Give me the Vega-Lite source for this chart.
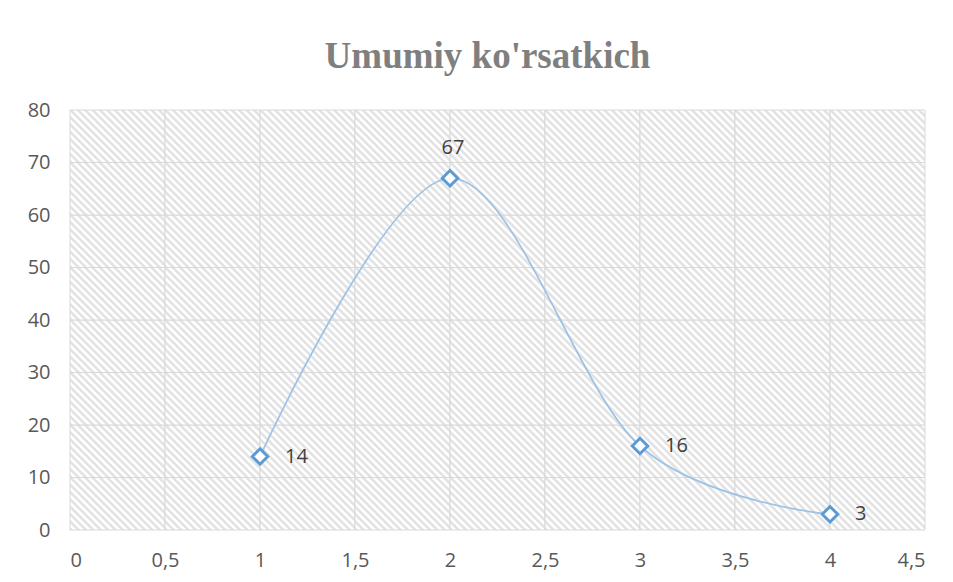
{
  "$schema": "https://vega.github.io/schema/vega-lite/v6.json",
  "width": 855,
  "height": 420,
  "autosize": "none",
  "padding": {"left": 70, "top": 110, "right": 28, "bottom": 52},
  "background": "#ffffff",
  "config": {"view": {"stroke": null}},
  "title": {
    "text": "Umumiy ko'rsatkich",
    "font": "Liberation Serif",
    "fontSize": 37,
    "fontWeight": "bold",
    "color": "#7f7f7f",
    "anchor": "middle",
    "frame": "group",
    "baseline": "alphabetic",
    "offset": 34,
    "dy": 39,
    "dx": -10
  },
  "datasets": {
    "cells": [
      {"y0": 0, "y1": 10, "xs": [0, 0.5, 1, 1.5, 2, 2.5, 3, 3.5, 4], "xe": [0.5, 1, 1.5, 2, 2.5, 3, 3.5, 4, 4.5]},
      {"y0": 10, "y1": 20, "xs": [0, 0.5, 1, 1.5, 2, 2.5, 3, 3.5, 4], "xe": [0.5, 1, 1.5, 2, 2.5, 3, 3.5, 4, 4.5]},
      {"y0": 20, "y1": 30, "xs": [0, 0.5, 1, 1.5, 2, 2.5, 3, 3.5, 4], "xe": [0.5, 1, 1.5, 2, 2.5, 3, 3.5, 4, 4.5]},
      {"y0": 30, "y1": 40, "xs": [0, 0.5, 1, 1.5, 2, 2.5, 3, 3.5, 4], "xe": [0.5, 1, 1.5, 2, 2.5, 3, 3.5, 4, 4.5]},
      {"y0": 40, "y1": 50, "xs": [0, 0.5, 1, 1.5, 2, 2.5, 3, 3.5, 4], "xe": [0.5, 1, 1.5, 2, 2.5, 3, 3.5, 4, 4.5]},
      {"y0": 50, "y1": 60, "xs": [0, 0.5, 1, 1.5, 2, 2.5, 3, 3.5, 4], "xe": [0.5, 1, 1.5, 2, 2.5, 3, 3.5, 4, 4.5]},
      {"y0": 60, "y1": 70, "xs": [0, 0.5, 1, 1.5, 2, 2.5, 3, 3.5, 4], "xe": [0.5, 1, 1.5, 2, 2.5, 3, 3.5, 4, 4.5]},
      {"y0": 70, "y1": 80, "xs": [0, 0.5, 1, 1.5, 2, 2.5, 3, 3.5, 4], "xe": [0.5, 1, 1.5, 2, 2.5, 3, 3.5, 4, 4.5]}
    ],
    "points": [
      {"x": 1, "y": 14},
      {"x": 2, "y": 67},
      {"x": 3, "y": 16},
      {"x": 4, "y": 3}
    ]
  },
  "layer": [
    {
      "data": {"name": "cells"},
      "transform": [{"flatten": ["xs", "xe"]}],
      "mark": {
        "type": "rect",
        "stroke": "#d9d9d9",
        "strokeWidth": 1,
        "fill": {
          "gradient": "linear",
          "x1": 0, "y1": 1, "x2": 1.18939, "y2": 0.3427,
          "stops": [
            {"offset": 0, "color": "#e3e3e3"}, {"offset": 0.0175, "color": "#e3e3e3"}, {"offset": 0.025, "color": "#ffffff"}, {"offset": 0.0425, "color": "#ffffff"},
            {"offset": 0.05, "color": "#e3e3e3"}, {"offset": 0.0675, "color": "#e3e3e3"}, {"offset": 0.075, "color": "#ffffff"}, {"offset": 0.0925, "color": "#ffffff"},
            {"offset": 0.1, "color": "#e3e3e3"}, {"offset": 0.1175, "color": "#e3e3e3"}, {"offset": 0.125, "color": "#ffffff"}, {"offset": 0.1425, "color": "#ffffff"},
            {"offset": 0.15, "color": "#e3e3e3"}, {"offset": 0.1675, "color": "#e3e3e3"}, {"offset": 0.175, "color": "#ffffff"}, {"offset": 0.1925, "color": "#ffffff"},
            {"offset": 0.2, "color": "#e3e3e3"}, {"offset": 0.2175, "color": "#e3e3e3"}, {"offset": 0.225, "color": "#ffffff"}, {"offset": 0.2425, "color": "#ffffff"},
            {"offset": 0.25, "color": "#e3e3e3"}, {"offset": 0.2675, "color": "#e3e3e3"}, {"offset": 0.275, "color": "#ffffff"}, {"offset": 0.2925, "color": "#ffffff"},
            {"offset": 0.3, "color": "#e3e3e3"}, {"offset": 0.3175, "color": "#e3e3e3"}, {"offset": 0.325, "color": "#ffffff"}, {"offset": 0.3425, "color": "#ffffff"},
            {"offset": 0.35, "color": "#e3e3e3"}, {"offset": 0.3675, "color": "#e3e3e3"}, {"offset": 0.375, "color": "#ffffff"}, {"offset": 0.3925, "color": "#ffffff"},
            {"offset": 0.4, "color": "#e3e3e3"}, {"offset": 0.4175, "color": "#e3e3e3"}, {"offset": 0.425, "color": "#ffffff"}, {"offset": 0.4425, "color": "#ffffff"},
            {"offset": 0.45, "color": "#e3e3e3"}, {"offset": 0.4675, "color": "#e3e3e3"}, {"offset": 0.475, "color": "#ffffff"}, {"offset": 0.4925, "color": "#ffffff"},
            {"offset": 0.5, "color": "#e3e3e3"}, {"offset": 0.5175, "color": "#e3e3e3"}, {"offset": 0.525, "color": "#ffffff"}, {"offset": 0.5425, "color": "#ffffff"},
            {"offset": 0.55, "color": "#e3e3e3"}, {"offset": 0.5675, "color": "#e3e3e3"}, {"offset": 0.575, "color": "#ffffff"}, {"offset": 0.5925, "color": "#ffffff"},
            {"offset": 0.6, "color": "#e3e3e3"}, {"offset": 0.6175, "color": "#e3e3e3"}, {"offset": 0.625, "color": "#ffffff"}, {"offset": 0.6425, "color": "#ffffff"},
            {"offset": 0.65, "color": "#e3e3e3"}, {"offset": 0.6675, "color": "#e3e3e3"}, {"offset": 0.675, "color": "#ffffff"}, {"offset": 0.6925, "color": "#ffffff"},
            {"offset": 0.7, "color": "#e3e3e3"}, {"offset": 0.7175, "color": "#e3e3e3"}, {"offset": 0.725, "color": "#ffffff"}, {"offset": 0.7425, "color": "#ffffff"},
            {"offset": 0.75, "color": "#e3e3e3"}, {"offset": 0.7675, "color": "#e3e3e3"}, {"offset": 0.775, "color": "#ffffff"}, {"offset": 0.7925, "color": "#ffffff"},
            {"offset": 0.8, "color": "#e3e3e3"}, {"offset": 0.8175, "color": "#e3e3e3"}, {"offset": 0.825, "color": "#ffffff"}, {"offset": 0.8425, "color": "#ffffff"},
            {"offset": 0.85, "color": "#e3e3e3"}, {"offset": 0.8675, "color": "#e3e3e3"}, {"offset": 0.875, "color": "#ffffff"}, {"offset": 0.8925, "color": "#ffffff"},
            {"offset": 0.9, "color": "#e3e3e3"}, {"offset": 0.9175, "color": "#e3e3e3"}, {"offset": 0.925, "color": "#ffffff"}, {"offset": 0.9425, "color": "#ffffff"},
            {"offset": 0.95, "color": "#e3e3e3"}, {"offset": 0.9675, "color": "#e3e3e3"}, {"offset": 0.975, "color": "#ffffff"}, {"offset": 0.9925, "color": "#ffffff"},
            {"offset": 1, "color": "#e3e3e3"}
          ]
        }
      },
      "encoding": {
        "x": {
          "field": "xs", "type": "quantitative",
          "scale": {"domain": [0, 4.5], "nice": false, "zero": false},
          "axis": {
            "values": [0, 0.5, 1, 1.5, 2, 2.5, 3, 3.5, 4, 4.5],
            "format": "~g",
            "labelExpr": "replace(datum.label, '.', ',')",
            "title": null, "grid": false, "domain": false, "ticks": false, "tickSize": 0,
            "labelPadding": 20, "labelFont": "Open Sans", "labelFontSize": 20, "labelColor": "#595959"
          }
        },
        "x2": {"field": "xe"},
        "y": {
          "field": "y0", "type": "quantitative",
          "scale": {"domain": [0, 80], "nice": false},
          "axis": {
            "values": [0, 10, 20, 30, 40, 50, 60, 70, 80],
            "title": null, "grid": false, "domain": false, "ticks": false, "tickSize": 0,
            "labelPadding": 20, "labelFont": "Open Sans", "labelFontSize": 20, "labelColor": "#595959"
          }
        },
        "y2": {"field": "y1"}
      }
    },
    {
      "data": {"name": "points"},
      "mark": {"type": "line", "interpolate": "cardinal", "color": "#9dc3e6", "strokeWidth": 1.75},
      "encoding": {
        "x": {"field": "x", "type": "quantitative"},
        "y": {"field": "y", "type": "quantitative"}
      }
    },
    {
      "data": {"name": "points"},
      "mark": {"type": "point", "shape": "diamond", "filled": true, "fill": "#ffffff", "stroke": "#5b9bd5", "strokeWidth": 3, "size": 240, "opacity": 1},
      "encoding": {
        "x": {"field": "x", "type": "quantitative"},
        "y": {"field": "y", "type": "quantitative"}
      }
    },
    {
      "data": {"name": "points"},
      "transform": [{"filter": "datum.x != 2"}],
      "mark": {"type": "text", "align": "left", "baseline": "middle", "dx": 25, "font": "Open Sans", "fontSize": 20, "color": "#404040"},
      "encoding": {
        "x": {"field": "x", "type": "quantitative"},
        "y": {"field": "y", "type": "quantitative"},
        "text": {"field": "y", "type": "quantitative"}
      }
    },
    {
      "data": {"name": "points"},
      "transform": [{"filter": "datum.x == 2"}],
      "mark": {"type": "text", "align": "center", "baseline": "alphabetic", "dx": 3, "dy": -24, "font": "Open Sans", "fontSize": 20, "color": "#404040"},
      "encoding": {
        "x": {"field": "x", "type": "quantitative"},
        "y": {"field": "y", "type": "quantitative"},
        "text": {"field": "y", "type": "quantitative"}
      }
    }
  ]
}
